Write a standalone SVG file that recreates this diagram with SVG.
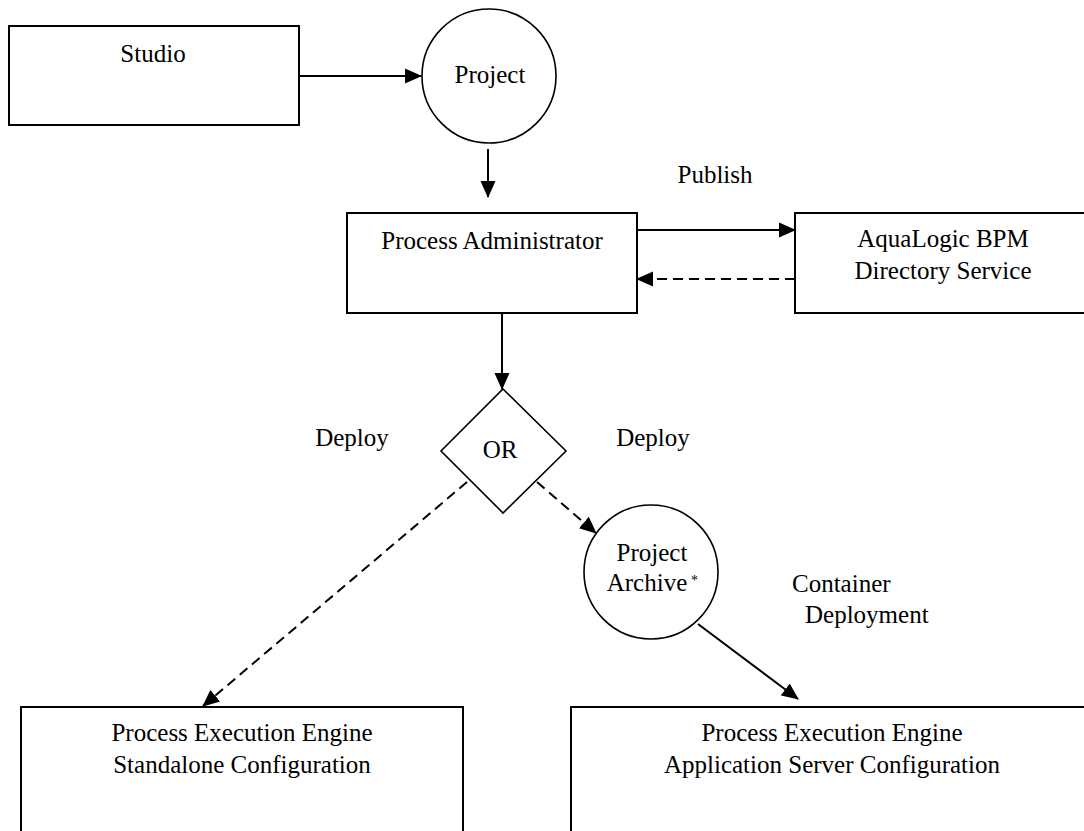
<svg xmlns="http://www.w3.org/2000/svg" width="1084" height="831" viewBox="0 0 1084 831" font-family="'Liberation Serif', 'Times New Roman', Times, serif">
  <style>
    .box { fill: #fff; stroke: #000; stroke-width: 2; }
    .shape { fill: #fff; stroke: #000; stroke-width: 1.6; }
    text { font-family: 'Liberation Serif', 'Times New Roman', Times, serif; font-size: 25px; fill: #000; }
    .mid { text-anchor: middle; }
    .sup { font-size: 14px; }
    .link { fill: none; stroke: #000; stroke-width: 2; }
    .dash { stroke-dasharray: 10 6; }
  </style>
  <defs>
    <marker id="arrow" markerUnits="userSpaceOnUse" markerWidth="17" markerHeight="17" viewBox="0 0 17 16" refX="16" refY="8" orient="auto">
      <path d="M0,0.5 L17,8 L0,15.5 Z" fill="#000"/>
    </marker>
  </defs>
  <rect width="1084" height="831" fill="#fff"/>

  <!-- Nodes -->
  <g id="studio">
    <rect class="box" x="9" y="26" width="290" height="99"/>
    <text class="mid" x="153" y="62">Studio</text>
  </g>
  <g id="project">
    <circle class="shape" cx="489" cy="76" r="67"/>
    <text class="mid" x="490" y="83">Project</text>
  </g>
  <g id="process-administrator">
    <rect class="box" x="347" y="213" width="290" height="100"/>
    <text class="mid" x="492" y="249">Process Administrator</text>
  </g>
  <g id="directory-service">
    <rect class="box" x="795" y="213" width="300" height="100"/>
    <text class="mid" x="943" y="247">AquaLogic BPM</text>
    <text class="mid" x="943" y="279">Directory Service</text>
  </g>
  <g id="or-gateway">
    <polygon class="shape" points="503,389 566,451 503,513 441,451"/>
    <text class="mid" x="500" y="458">OR</text>
  </g>
  <g id="project-archive">
    <circle class="shape" cx="651" cy="572" r="67"/>
    <text class="mid" x="652" y="561">Project</text>
    <text class="mid" x="647" y="591">Archive</text>
    <text class="sup" x="691" y="585">*</text>
  </g>
  <g id="engine-standalone">
    <rect class="box" x="21" y="707" width="442" height="140"/>
    <text class="mid" x="242" y="741">Process Execution Engine</text>
    <text class="mid" x="242" y="773">Standalone Configuration</text>
  </g>
  <g id="engine-appserver">
    <rect class="box" x="571" y="707" width="530" height="140"/>
    <text class="mid" x="832" y="741">Process Execution Engine</text>
    <text class="mid" x="832" y="773">Application Server Configuration</text>
  </g>

  <!-- Connectors -->
  <g id="connectors">
    <line class="link" x1="299" y1="76" x2="421" y2="76" marker-end="url(#arrow)"/>
    <line class="link" x1="488" y1="149" x2="488" y2="197" marker-end="url(#arrow)"/>
    <line class="link" x1="636" y1="230" x2="795" y2="230" marker-end="url(#arrow)"/>
    <line class="link dash" x1="795" y1="279" x2="637" y2="279" marker-end="url(#arrow)"/>
    <line class="link" x1="502" y1="313" x2="502" y2="389" marker-end="url(#arrow)"/>
    <line class="link dash" x1="467" y1="482" x2="203" y2="706" marker-end="url(#arrow)"/>
    <line class="link dash" x1="537" y1="482" x2="596" y2="533" marker-end="url(#arrow)"/>
    <line class="link" x1="698" y1="624" x2="798" y2="699" marker-end="url(#arrow)"/>
  </g>

  <!-- Connector labels -->
  <g id="labels">
    <text class="mid" x="715" y="183">Publish</text>
    <text class="mid" x="352" y="446">Deploy</text>
    <text class="mid" x="653" y="446">Deploy</text>
    <text x="792" y="592">Container</text>
    <text x="805" y="623">Deployment</text>
  </g>
</svg>
